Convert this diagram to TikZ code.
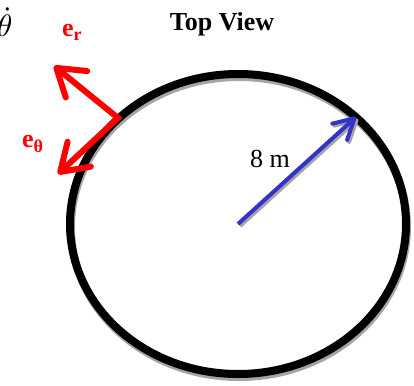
\documentclass[tikz,border=0pt]{standalone}
\usepackage{fontspec}
\setmainfont{Liberation Serif}
\usetikzlibrary{arrows.meta}
\definecolor{vecred}{RGB}{255,0,0}
\definecolor{radblue}{RGB}{51,51,204}
\definecolor{shadegrey}{RGB}{165,165,165}

\begin{document}
\begin{tikzpicture}[x=1pt, y=-1pt,
    rim/.style={line width=8pt},
    radarrow/.style={line width=4pt, -{Straight Barb[length=20pt, width=22pt, round]}},
    unitvec/.style={vecred, line width=6pt, miter limit=10,
        {Straight Barb[length=26pt, width=34pt, round]}-{Straight Barb[length=26pt, width=34pt, round]}},
    lbl/.style={inner sep=0pt, font=\fontsize{26}{30}\selectfont}
]
\useasboundingbox (0,0) rectangle (414,385);

\coordinate (centre) at (238,224);
\coordinate (edge) at (356,117);
\coordinate (base) at (118,118);
\coordinate (ertip) at (54,66);
\coordinate (ethtip) at (58,174);

% wheel, seen from above
\draw[rim, shadegrey] ([shift={(1,3)}]centre) ellipse [x radius=168pt, y radius=150pt];
\draw[rim] (centre) ellipse [x radius=168pt, y radius=150pt];

% radius
\draw[radarrow, shadegrey] ([shift={(2,2)}]centre) -- ([shift={(2,2)}]edge);
\draw[radarrow, radblue] (centre) -- (edge);

% unit vectors
\draw[unitvec] (ertip) -- (base) -- (ethtip);

\node[lbl, font=\fontsize{26}{30}\selectfont\bfseries, anchor=base] (title) at (222,31) {Top View};
\node[lbl, anchor=base west] (radius) at (250,167) {8 m};
\node[inner sep=0pt, anchor=base west] (thetadot) at (-3,37) {\scalebox{3.1}{$\dot{\theta}$}};
\node[lbl, vecred, anchor=base west] (erlabel) at (62,37)
    {\textbf{e}\raisebox{-4pt}{\fontsize{18}{18}\selectfont\textbf{r}}};
\node[lbl, vecred, anchor=base west] (ethlabel) at (22,147)
    {\textbf{e}\raisebox{-5pt}{\fontsize{18}{18}\selectfont\textbf{θ}}};
\end{tikzpicture}
\end{document}
